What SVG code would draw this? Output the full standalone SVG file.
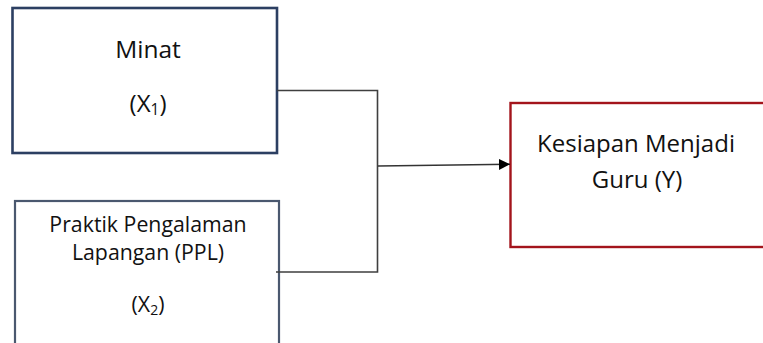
<svg xmlns="http://www.w3.org/2000/svg" width="763" height="343" viewBox="0 0 763 343">
<style>
.t{font-family:"Open Sans","Liberation Sans",sans-serif;fill:#111;text-anchor:middle}
.c{fill:none;stroke:#3f3f3f;stroke-width:1.6}
</style>
<defs>
<marker id="ah" markerWidth="11" markerHeight="11" refX="11" refY="5.5" orient="auto" markerUnits="userSpaceOnUse">
<path d="M0,0 L11,5.5 L0,11 Z" fill="#000"/>
</marker>
</defs>
<rect width="763" height="343" fill="#fff"/>
<g id="minat">
<rect x="12.5" y="8" width="264.5" height="145" fill="#fff" stroke="#2c3f62" stroke-width="2.6"/>
<text class="t" x="148" y="58" font-size="24.5">Minat</text>
<text class="t" x="148" y="112" font-size="24">(X<tspan font-size="15.5" dy="3">1</tspan><tspan dy="-3">)</tspan></text>
</g>
<g id="ppl">
<rect x="15" y="201" width="264" height="160" fill="#fff" stroke="#4a586f" stroke-width="2.2"/>
<text class="t" x="148" y="232" font-size="21.3">Praktik Pengalaman</text>
<text class="t" x="148" y="260" font-size="21.3">Lapangan (PPL)</text>
<text class="t" x="148" y="312" font-size="21.3">(X<tspan font-size="14" dy="3">2</tspan><tspan dy="-3">)</tspan></text>
</g>
<g id="kesiapan">
<rect x="510.5" y="103" width="270" height="144" fill="#fff" stroke="#a3141c" stroke-width="2.4"/>
<text class="t" x="636" y="152" font-size="24">Kesiapan Menjadi</text>
<text class="t" x="637" y="188" font-size="24">Guru (Y)</text>
</g>
<g id="connectors">
<path class="c" d="M277,90.5 H377.5 V272 H276"/>
<line x1="378" y1="166" x2="510" y2="164.3" stroke="#333" stroke-width="1.6" marker-end="url(#ah)"/>
</g>
</svg>
